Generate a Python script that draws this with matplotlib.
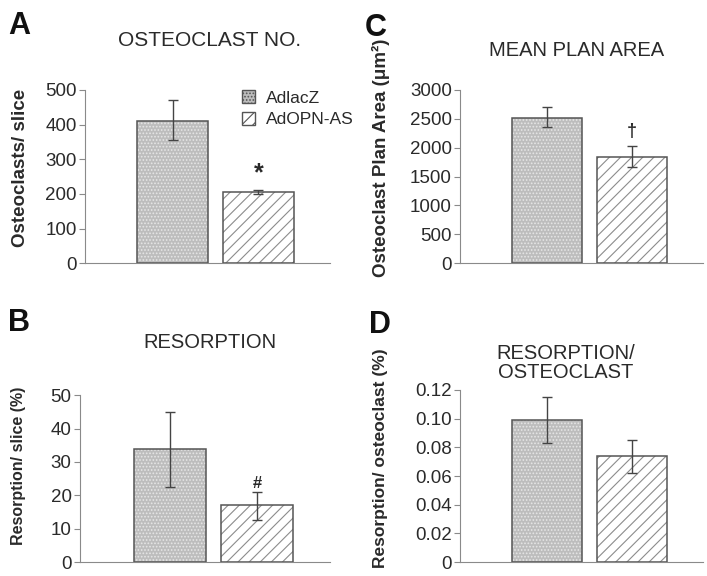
import matplotlib
matplotlib.use("Agg")
import matplotlib.pyplot as plt
from matplotlib.patches import Patch

plt.rcParams['font.family'] = ['Liberation Sans', 'DejaVu Sans']
plt.rcParams['hatch.linewidth'] = 0.8

groups = ["AdlacZ", "AdOPN-AS"]

# panel A: osteoclast number
osteo_no = [410, 205]
osteo_no_lo = [355, 200]
osteo_no_hi = [470, 210]

# panel C: mean plan area
plan_area = [2520, 1840]
plan_area_lo = [2350, 1660]
plan_area_hi = [2710, 2020]

# panel B: resorption
resorp = [34, 17]
resorp_lo = [22.5, 12.5]
resorp_hi = [45, 21]

# panel D: resorption per osteoclast
resorp_oc = [0.099, 0.074]
resorp_oc_lo = [0.083, 0.062]
resorp_oc_hi = [0.115, 0.085]

EDGE = '#555555'
AXIS = '#8a8a8a'
TXT = '#2a2a2a'
W, H = 707.0, 576.0


def draw_bars(ax, vals, lo, hi, ymax, step, fmt):
    xs = [0, 1]
    # dotted grey bar: hatch drawn in light colour, outline drawn separately
    ax.bar(xs[0], vals[0], width=0.83, color='#bdbdbd', edgecolor='#e6e6e6',
           hatch='.....', linewidth=0)
    ax.bar(xs[1], vals[1], width=0.83, color='white', edgecolor='#8c8c8c',
           hatch='///', linewidth=0)
    ax.bar(xs, vals, width=0.83, color='none', edgecolor=EDGE, linewidth=1.1)
    err = [[v - l for v, l in zip(vals, lo)], [h - v for v, h in zip(vals, hi)]]
    ax.errorbar(xs, vals, yerr=err, fmt='none', ecolor='#444444',
                elinewidth=1.0, capsize=3.5, capthick=1.0)
    ax.set_xlim(-1.03, 1.84)
    ax.set_ylim(0, ymax)
    ticks = [i * step for i in range(int(round(ymax / step)) + 1)]
    ax.set_yticks(ticks)
    ax.set_yticklabels([fmt(t) for t in ticks], fontsize=13.5, color=TXT)
    ax.set_xticks([])
    for s in ['top', 'right']:
        ax.spines[s].set_visible(False)
    ax.spines['left'].set_color(AXIS)
    ax.spines['bottom'].set_color(AXIS)
    ax.tick_params(axis='y', length=4, color=AXIS, pad=2)


def ylab(x, y, s, size):
    fig.text(x / W, 1 - y / H, s, rotation=90, ha='center', va='center',
             fontsize=size, fontweight='bold', color=TXT)


fig = plt.figure(figsize=(7.07, 5.76), dpi=100)

axA = fig.add_axes([0.120, 0.543, 0.347, 0.301])
draw_bars(axA, osteo_no, osteo_no_lo, osteo_no_hi, 500, 100,
          lambda t: '%d' % t)
ylab(21, 168, 'Osteoclasts/ slice', 13.5)
axA.text(1, 260, '*', ha='center', va='center', fontsize=18, fontweight='bold',
         color=TXT)
handles = [Patch(facecolor='#bdbdbd', edgecolor=EDGE, hatch='.....'),
           Patch(facecolor='white', edgecolor=EDGE, hatch='///')]
axA.legend(handles, groups, loc='upper left', bbox_to_anchor=(0.575, 1.09),
           frameon=False, fontsize=12.5, handlelength=0.8, handleheight=0.8,
           handletextpad=0.6, labelspacing=0.35, labelcolor=TXT)

axC = fig.add_axes([0.651, 0.543, 0.343, 0.301])
draw_bars(axC, plan_area, plan_area_lo, plan_area_hi, 3000, 500,
          lambda t: '%d' % t)
ylab(381, 158, 'Osteoclast Plan Area (\u03bcm\u00b2)', 13.5)
axC.text(1, 2272, '\u2020', ha='center', va='center', fontsize=13,
         fontweight='bold', color=TXT)

axB = fig.add_axes([0.113, 0.024, 0.354, 0.290])
draw_bars(axB, resorp, resorp_lo, resorp_hi, 50, 10,
          lambda t: '%d' % t)
ylab(19, 466, 'Resorption/ slice (%)', 11.5)
axB.text(1, 23.6, '#', ha='center', va='center', fontsize=12,
         fontweight='bold', color=TXT)

axD = fig.add_axes([0.651, 0.024, 0.343, 0.299])
draw_bars(axD, resorp_oc, resorp_oc_lo, resorp_oc_hi, 0.12, 0.02,
          lambda t: '0' if t == 0 else '%.2f' % t)
ylab(380, 458, 'Resorption/ osteoclast (%)', 12.5)

# panel titles and letters
fig.text(0.297, 0.930, 'OSTEOCLAST NO.', ha='center', va='center',
         fontsize=15, color=TXT)
fig.text(0.815, 0.913, 'MEAN PLAN AREA', ha='center', va='center',
         fontsize=14.5, color=TXT)
fig.text(0.297, 0.405, 'RESORPTION', ha='center', va='center',
         fontsize=14.5, color=TXT)
fig.text(0.800, 0.370, 'RESORPTION/\nOSTEOCLAST', ha='center', va='center',
         fontsize=14.5, color=TXT, linespacing=1.0)

for x, y, s in [(0.012, 0.955, 'A'), (0.516, 0.952, 'C'),
                (0.012, 0.440, 'B'), (0.522, 0.435, 'D')]:
    fig.text(x, y, s, ha='left', va='center', fontsize=22, fontweight='bold',
             color='#111111')

fig.savefig('out.png', dpi=100)
